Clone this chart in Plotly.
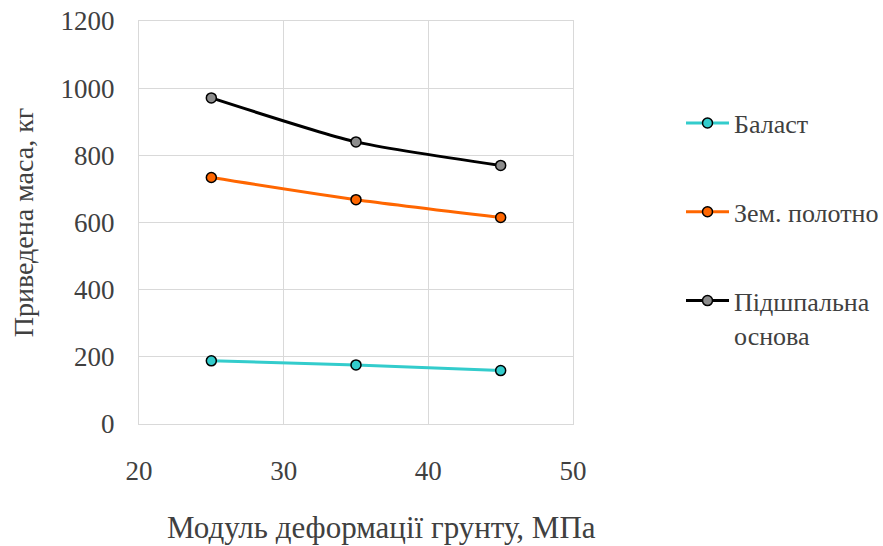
import plotly.graph_objects as go

x_vals = [25, 35, 45]
ballast = [188, 176, 159]
subgrade = [734, 668, 615]
sleeper_base = [971, 840, 770]

names = ["Баласт", "Зем. полотно", "Підшпальна<br>основа"]
line_colors = ["#33CCCC", "#FF6600", "#000000"]
marker_colors = ["#33CCCC", "#FF6600", "#8C8C8C"]
series = [ballast, subgrade, sleeper_base]

FONT = "Liberation Serif"
TXT = "#404040"

fig = go.Figure()
for i, (nm, ys) in enumerate(zip(names, series)):
    fig.add_trace(go.Scatter(
        x=x_vals, y=ys, name=nm, mode="lines+markers",
        line=dict(color=line_colors[i], width=3, shape="spline", smoothing=0.6),
        marker=dict(size=10, color=marker_colors[i], line=dict(color="#000000", width=1.5)),
        legendgroup=f"g{i}",
    ))

fig.add_annotation(
    text="Модуль деформації грунту, МПа", xref="paper", yref="paper",
    x=(381 - 139) / 434, y=-(527 - 424) / 403, xanchor="center", yanchor="middle",
    showarrow=False, font=dict(family=FONT, size=31, color=TXT),
)

fig.update_layout(
    width=883, height=546,
    margin=dict(l=139, r=310, t=21, b=122, autoexpand=False),
    paper_bgcolor="white", plot_bgcolor="white",
    font=dict(family=FONT, color=TXT),
    showlegend=True,
    legend=dict(
        xref="container", yref="container",
        x=681 / 883, y=1 - 99.6 / 546, xanchor="left", yanchor="top",
        font=dict(family=FONT, size=26, color=TXT),
        tracegroupgap=52, valign="top", traceorder="grouped",
        itemwidth=43,
        bgcolor="rgba(0,0,0,0)",
    ),
    xaxis=dict(
        range=[20, 50], tickvals=[20, 30, 40, 50],
        showgrid=True, gridcolor="#D9D9D9", gridwidth=1,
        showline=True, linecolor="#D9D9D9", linewidth=1, mirror=True,
        zeroline=False, ticks="", automargin=False,
        tickfont=dict(family=FONT, size=27, color=TXT),
        ticklabelstandoff=23,
    ),
    yaxis=dict(
        range=[0, 1200], tickvals=[0, 200, 400, 600, 800, 1000, 1200],
        showgrid=True, gridcolor="#D9D9D9", gridwidth=1,
        showline=True, linecolor="#D9D9D9", linewidth=1, mirror=True,
        zeroline=False, ticks="", automargin=False,
        tickfont=dict(family=FONT, size=27, color=TXT),
        ticklabelstandoff=18,
        title=dict(text="Приведена маса, кг", font=dict(family=FONT, size=28, color=TXT), standoff=18),
    ),
)

fig.write_html("out.html")
